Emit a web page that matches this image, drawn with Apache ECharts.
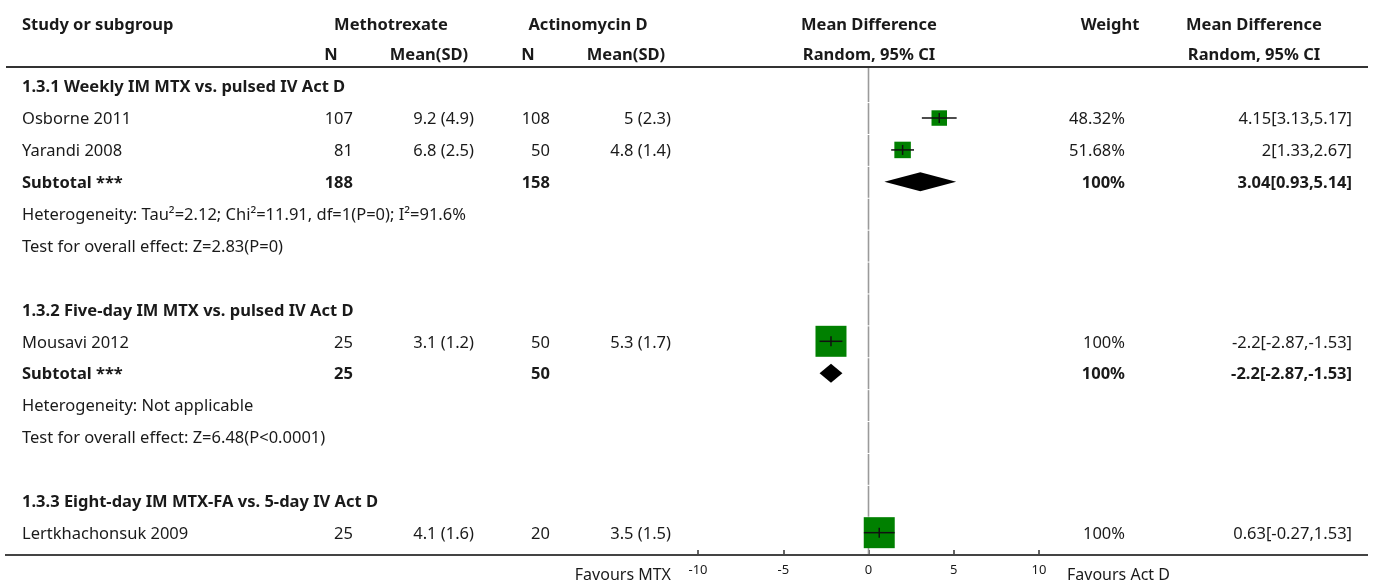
<!DOCTYPE html>
<html>
<head>
<meta charset="utf-8">
<script src="https://cdn.jsdelivr.net/npm/echarts@6/dist/echarts.min.js"></script>
<style>
  html, body { margin: 0; padding: 0; background: #fff; }
  #chart { width: 1375px; height: 583px; }
</style>
</head>
<body>
<div id="chart"></div>
<script>
// Forest plot: Methotrexate vs Actinomycin D, mean difference (random effects, 95% CI)

const rowLabels = [
  '1.3.1 Weekly IM MTX vs. pulsed IV Act D',
  'Osborne 2011',
  'Yarandi 2008',
  'Subtotal ***',
  'Heterogeneity: Tau\u00b2=2.12; Chi\u00b2=11.91, df=1(P=0); I\u00b2=91.6%',
  'Test for overall effect: Z=2.83(P=0)',
  '',
  '1.3.2 Five-day IM MTX vs. pulsed IV Act D',
  'Mousavi 2012',
  'Subtotal ***',
  'Heterogeneity: Not applicable',
  'Test for overall effect: Z=6.48(P<0.0001)',
  '',
  '1.3.3 Eight-day IM MTX-FA vs. 5-day IV Act D',
  'Lertkhachonsuk 2009'
];
const rowKinds = ['group', 'study', 'study', 'subtotal', 'note', 'note', 'blank',
                  'group', 'study', 'subtotal', 'note', 'note', 'blank',
                  'group', 'study'];

const mtxN    = [null, 107, 81, 188, null, null, null, null, 25, 25, null, null, null, null, 25];
const mtxMean = [null, 9.2, 6.8, null, null, null, null, null, 3.1, null, null, null, null, null, 4.1];
const mtxSD   = [null, 4.9, 2.5, null, null, null, null, null, 1.2, null, null, null, null, null, 1.6];
const actN    = [null, 108, 50, 158, null, null, null, null, 50, 50, null, null, null, null, 20];
const actMean = [null, 5, 4.8, null, null, null, null, null, 5.3, null, null, null, null, null, 3.5];
const actSD   = [null, 2.3, 1.4, null, null, null, null, null, 1.7, null, null, null, null, null, 1.5];
const weights = [null, 48.32, 51.68, 100, null, null, null, null, 100, 100, null, null, null, null, 100];
const md      = [null, 4.15, 2, 3.04, null, null, null, null, -2.2, -2.2, null, null, null, null, 0.63];
const ciLow   = [null, 3.13, 1.33, 0.93, null, null, null, null, -2.87, -2.87, null, null, null, null, -0.27];
const ciHigh  = [null, 5.17, 2.67, 5.14, null, null, null, null, -1.53, -1.53, null, null, null, null, 1.53];

const axisMin = -10, axisMax = 10, axisStep = 5;
const favourLeft = 'Favours MTX';
const favourRight = 'Favours Act D';

const FONT = '"Noto Sans", "Open Sans", sans-serif';
const FS = 16.5;
const INK = '#1a1a1a';
const TEXT_DY = 1.5;   // optical centring of the text baseline

// column anchors (px)
const COL = {
  study: 22,
  mtxN: 353, mtxMean: 474,
  actN: 550, actMean: 671,
  weight: 1125, mdText: 1352
};

function txt(x, y, s, align, bold, size) {
  return {
    type: 'text',
    x: x, y: y + TEXT_DY,
    silent: true,
    style: {
      text: s,
      align: align, textAlign: align,
      verticalAlign: 'middle', textVerticalAlign: 'middle',
      fontFamily: FONT,
      fontSize: size || FS,
      fontWeight: bold ? 'bold' : 'normal',
      fill: INK
    }
  };
}

const rowIdx = rowLabels.map((_, i) => i);
const studyRows = rowIdx.filter(i => rowKinds[i] === 'study');
const subtotalRows = rowIdx.filter(i => rowKinds[i] === 'subtotal');
const yMin = -0.6, yMax = 14.7;

const chart = echarts.init(document.getElementById('chart'), null, { renderer: 'canvas' });

const option = {
  animation: false,
  backgroundColor: '#fff',
  grid: { left: 698, width: 341, top: 67, height: 488, containLabel: false },
  xAxis: {
    type: 'value',
    position: 'bottom',
    min: axisMin, max: axisMax, interval: axisStep,
    axisLine: { show: true, onZero: false, lineStyle: { color: '#444', width: 2 } },
    axisTick: { show: true, inside: true, length: 5, lineStyle: { color: '#333', width: 1.5 } },
    axisLabel: { fontFamily: FONT, fontSize: 13, color: INK, margin: 9 },
    splitLine: { show: false }
  },
  yAxis: {
    type: 'value', inverse: true, min: yMin, max: yMax, show: false
  },
  series: [
    {
      // zero reference line, one segment per row
      type: 'custom',
      data: rowIdx.map(i => [i]),
      renderItem: function (params, api) {
        const i = api.value(0);
        const top = api.coord([0, i === 0 ? yMin : i - 0.5]);
        const bot = api.coord([0, i === rowIdx.length - 1 ? yMax : i + 0.5]);
        return {
          type: 'line', silent: true,
          shape: { x1: top[0], y1: top[1] + 1, x2: bot[0], y2: bot[1] },
          style: { stroke: '#9a9a9a', lineWidth: 1.6 }
        };
      },
      z: 1
    },
    {
      // table text
      type: 'custom',
      data: rowIdx.map(i => [i]),
      renderItem: function (params, api) {
        const i = api.value(0);
        const y = api.coord([0, i])[1];
        const kind = rowKinds[i];
        const bold = kind === 'group' || kind === 'subtotal';
        const ch = [];
        if (rowLabels[i]) ch.push(txt(COL.study, y, rowLabels[i], 'left', bold));
        if (mtxN[i] != null) ch.push(txt(COL.mtxN, y, String(mtxN[i]), 'right', bold));
        if (mtxMean[i] != null) ch.push(txt(COL.mtxMean, y, mtxMean[i] + ' (' + mtxSD[i] + ')', 'right', false));
        if (actN[i] != null) ch.push(txt(COL.actN, y, String(actN[i]), 'right', bold));
        if (actMean[i] != null) ch.push(txt(COL.actMean, y, actMean[i] + ' (' + actSD[i] + ')', 'right', false));
        if (weights[i] != null) ch.push(txt(COL.weight, y, weights[i] + '%', 'right', bold));
        if (md[i] != null) ch.push(txt(COL.mdText, y, md[i] + '[' + ciLow[i] + ',' + ciHigh[i] + ']', 'right', bold));
        return { type: 'group', children: ch };
      },
      z: 5
    },
    {
      // study estimates: weighted square, CI whisker, centre tick
      type: 'custom',
      data: studyRows.map(i => [md[i], i, ciLow[i], ciHigh[i], weights[i]]),
      renderItem: function (params, api) {
        const c = api.coord([api.value(0), api.value(1)]);
        const lo = api.coord([api.value(2), api.value(1)]);
        const hi = api.coord([api.value(3), api.value(1)]);
        const s = 1 + api.value(4) * 0.30;
        return {
          type: 'group',
          children: [
            { type: 'rect', shape: { x: c[0] - s / 2, y: c[1] - s / 2, width: s, height: s },
              style: { fill: '#008000' } },
            { type: 'line', shape: { x1: lo[0], y1: c[1], x2: hi[0], y2: c[1] },
              style: { stroke: '#111', lineWidth: 1.5 } },
            { type: 'line', shape: { x1: c[0], y1: c[1] - 5, x2: c[0], y2: c[1] + 5 },
              style: { stroke: '#111', lineWidth: 1.5 } }
          ]
        };
      },
      z: 3
    },
    {
      // pooled estimates (diamonds)
      type: 'custom',
      data: subtotalRows.map(i => [md[i], i, ciLow[i], ciHigh[i]]),
      renderItem: function (params, api) {
        const c = api.coord([api.value(0), api.value(1)]);
        const lo = api.coord([api.value(2), api.value(1)]);
        const hi = api.coord([api.value(3), api.value(1)]);
        const h = 9.5;
        return {
          type: 'polygon',
          shape: { points: [[lo[0], c[1]], [c[0], c[1] - h], [hi[0], c[1]], [c[0], c[1] + h]] },
          style: { fill: '#000' }
        };
      },
      z: 3
    }
  ],
  graphic: [
    // header row 1
    txt(22, 24, 'Study or subgroup', 'left', true),
    txt(391, 24, 'Methotrexate', 'center', true),
    txt(588, 24, 'Actinomycin D', 'center', true),
    txt(869, 24, 'Mean Difference', 'center', true),
    txt(1110, 24, 'Weight', 'center', true),
    txt(1254, 24, 'Mean Difference', 'center', true),
    // header row 2
    txt(331, 54, 'N', 'center', true),
    txt(429, 54, 'Mean(SD)', 'center', true),
    txt(528, 54, 'N', 'center', true),
    txt(626, 54, 'Mean(SD)', 'center', true),
    txt(869, 54, 'Random, 95% CI', 'center', true),
    txt(1254, 54, 'Random, 95% CI', 'center', true),
    // rules
    { type: 'line', silent: true, shape: { x1: 6, y1: 67, x2: 1368, y2: 67 },
      style: { stroke: '#333', lineWidth: 2 }, z: 10 },
    { type: 'line', silent: true, shape: { x1: 5, y1: 555, x2: 1368, y2: 555 },
      style: { stroke: '#444', lineWidth: 2 }, z: 10 },
    // favours labels
    txt(671, 574, favourLeft, 'right', false, 16),
    txt(1067, 574, favourRight, 'left', false, 16)
  ]
};

chart.setOption(option);
</script>
</body>
</html>
